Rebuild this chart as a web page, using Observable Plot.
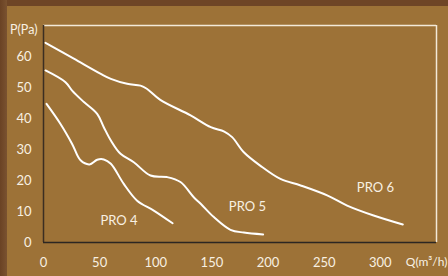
<!DOCTYPE html>
<html><head><meta charset="utf-8">
<script src="https://cdn.jsdelivr.net/npm/d3@7"></script>
<script src="https://cdn.jsdelivr.net/npm/@observablehq/plot@0.6"></script>
<style>
html,body{margin:0;padding:0;background:#9d7237;}
#wrap{position:relative;width:448px;height:276px;overflow:hidden;background:#9d7237;}
#top{position:absolute;left:0;top:0;width:448px;height:6px;background:#6e4526;}
#left{position:absolute;left:0;top:0;width:7px;height:276px;background:linear-gradient(90deg,#6a4224,#7a5230);}
#chart{position:absolute;left:0;top:0;}
</style></head>
<body><div id="wrap"><div id="top"></div><div id="left"></div><div id="chart"></div></div>
<script>
const xTicks = [0, 50, 100, 150, 200, 250, 300];
const yTicks = [0, 10, 20, 30, 40, 50, 60];
const seriesNames = ["PRO 4", "PRO 5", "PRO 6"];
const pro4Q = [2.7, 15, 25.5, 33, 41, 47.8, 53.7, 60, 71.5, 83.4, 98.2, 115];
const pro4P = [44.7, 38.3, 31.8, 26.5, 25.2, 26.7, 26.8, 25.4, 18.9, 13.5, 10.3, 6.2];
const pro5Q = [1.8, 19.6, 25.5, 36, 47.8, 53.7, 60, 68.6, 80.4, 95.3, 110, 122, 133.8, 140, 151.7, 166.5, 178.4, 195.6];
const pro5P = [55.5, 51.7, 49, 45.3, 41.5, 37.2, 32.9, 28.6, 25.9, 21.6, 21.1, 19.5, 14.6, 12.5, 8.2, 4.1, 3.2, 2.6];
const pro6Q = [1.8, 27, 51, 60, 74.5, 86.4, 92, 104, 131, 149, 161, 168, 178.4, 193, 211, 229, 252.6, 270.4, 294, 320];
const pro6P = [64.4, 59.3, 54.4, 52.8, 51.2, 50.6, 49.6, 46, 41, 37.2, 35.8, 34, 29.1, 24.8, 20.5, 18.4, 15.2, 11.9, 8.7, 5.8];
const labelQ = [67.2, 181.6, 295.6];
const labelP = [7.1, 11.4, 17.6];

const series = [[pro4Q, pro4P], [pro5Q, pro5P], [pro6Q, pro6P]];
const pts = [];
series.forEach(([qs, ps], i) => qs.forEach((q, j) => pts.push({name: seriesNames[i], q, p: ps[j]})));
const labels = seriesNames.map((n, i) => ({name: n, q: labelQ[i], p: labelP[i]}));

const fg = "#f8f0e2";
const plot = Plot.plot({
  width: 448, height: 276,
  marginLeft: 43, marginRight: 12, marginTop: 25, marginBottom: 34,
  style: {background: "transparent", fontFamily: "Lato, sans-serif", fontSize: "13px", color: fg, overflow: "visible"},
  x: {domain: [0, 350]},
  y: {domain: [0, 70]},
  marks: [
    Plot.axisX({ticks: xTicks, tickSize: 0, tickPadding: 15, label: null, fill: fg, fontSize: 13}),
    Plot.axisY({ticks: yTicks, tickSize: 0, tickPadding: 12, label: null, fill: fg, fontSize: 13}),
    Plot.ruleY([70], {stroke: "#f3e9d8", strokeWidth: 1.5}),
    Plot.ruleX([350], {stroke: "#f3e9d8", strokeWidth: 1.5}),
    Plot.ruleX([0], {stroke: "#3b2e22", strokeWidth: 1.5}),
    Plot.ruleY([0], {stroke: "#2b2622", strokeWidth: 1.5}),
    Plot.line(pts, {x: "q", y: "p", z: "name", stroke: "#ffffff", strokeWidth: 2, curve: "catmull-rom"}),
    Plot.text(labels, {x: "q", y: "p", text: "name", fill: fg, fontSize: 13}),
    Plot.text(["P(Pa)"], {frameAnchor: "top-left", dx: -6, textAnchor: "end", fill: fg, fontSize: 12.5}),
    Plot.text(["Q(m³/h)"], {frameAnchor: "bottom-right", dx: 11, dy: 23, textAnchor: "end", fill: fg, fontSize: 12})
  ]
});
document.getElementById("chart").appendChild(plot);
</script></body></html>
